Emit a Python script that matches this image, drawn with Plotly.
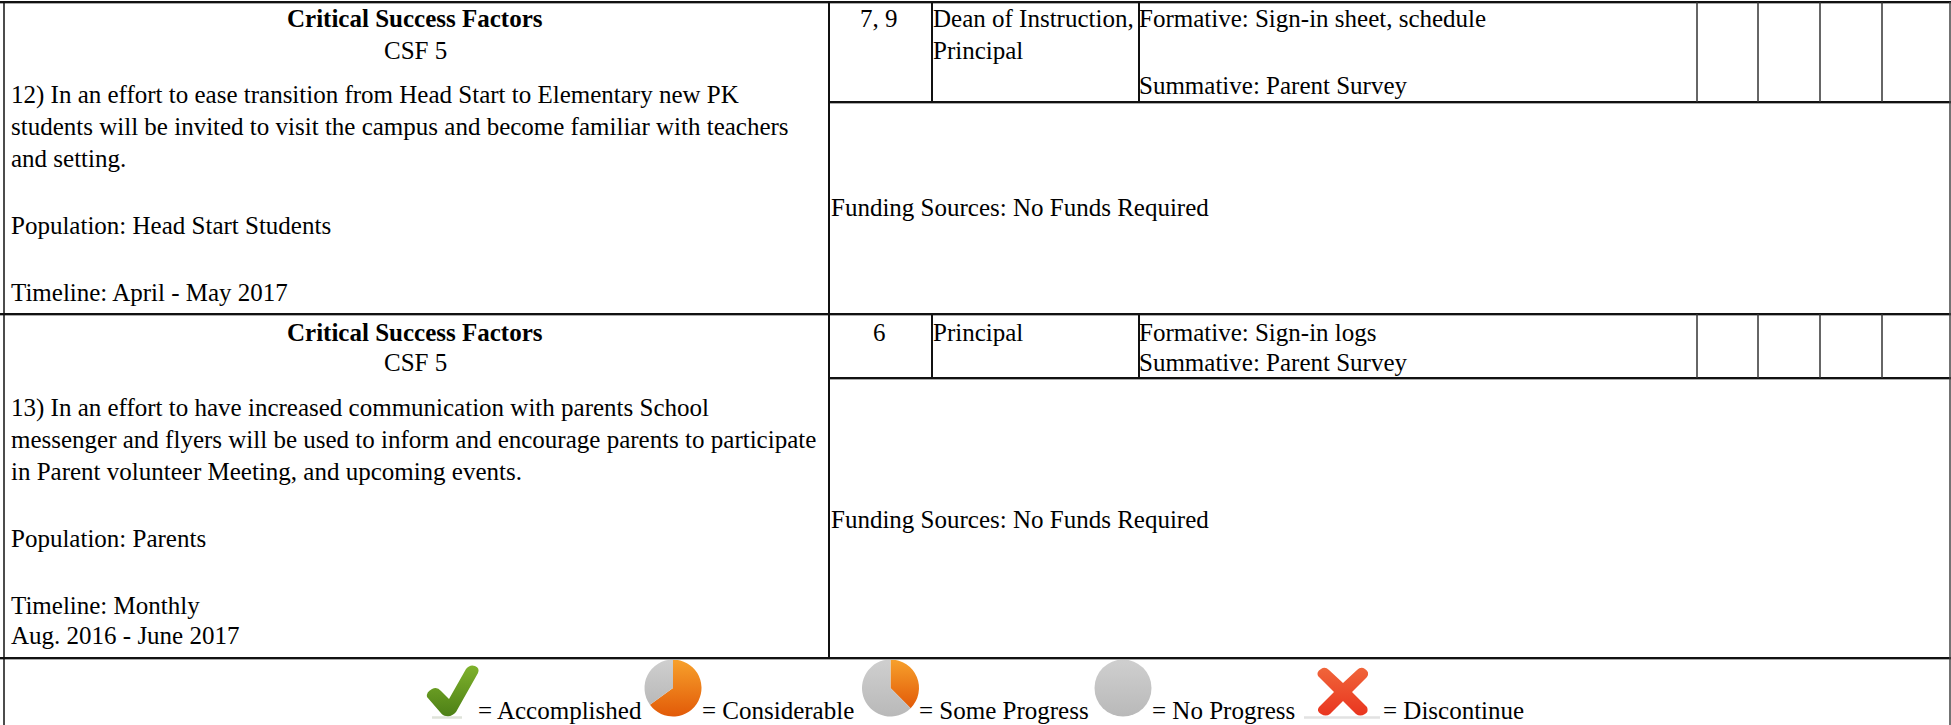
import plotly.graph_objects as go

W, H = 1951, 725

# ---- content ----
ROW1_LEFT = ["12) In an effort to ease transition from Head Start to Elementary new PK",
             "students will be invited to visit the campus and become familiar with teachers",
             "and setting.", "Population: Head Start Students", "Timeline: April - May 2017"]
ROW2_LEFT = ["13) In an effort to have increased communication with parents School",
             "messenger and flyers will be used to inform and encourage parents to participate",
             "in Parent volunteer Meeting, and upcoming events.", "Population: Parents",
             "Timeline: Monthly", "Aug. 2016 - June 2017"]
HEAD = "Critical Success Factors"
CSF = "CSF 5"
FUNDING = "Funding Sources: No Funds Required"
ROW1_CELLS = ["7, 9", "Dean of Instruction,", "Principal", "Formative: Sign-in sheet, schedule", "Summative: Parent Survey"]
ROW2_CELLS = ["6", "Principal", "Formative: Sign-in logs", "Summative: Parent Survey"]
LEGEND = ["= Accomplished", "= Considerable", "= Some Progress", "= No Progress", "= Discontinue"]
CONSIDERABLE = [65, 35]
SOME_PROGRESS = [37.5, 62.5]
NO_PROGRESS = [100]

# ---- layout ----
FONT = "Liberation Serif, Times New Roman, serif"
SIZE = 25
ORANGE, GREY = "#ee7a16", "#c4c4c4"

fig = go.Figure()
fig.add_trace(go.Scatter(x=[], y=[], hoverinfo="skip", showlegend=False))

def label(text, x, y, anchor="left", bold=False):
    fig.add_annotation(x=x, y=y, xref="x", yref="y", text=f"<b>{text}</b>" if bold else text,
                       xanchor=anchor, yanchor="middle", showarrow=False, align=anchor,
                       borderpad=0, borderwidth=0,
                       font=dict(family=FONT, size=SIZE, color="#000"))

def rule(x0, y0, x1, y1, width=2, color="#111"):
    fig.add_shape(type="line", x0=x0, y0=y0, x1=x1, y1=y1, xref="x", yref="y",
                  line=dict(color=color, width=width))

# grid
for y, x0 in ((2, 0), (102, 829), (314, 0), (378, 829), (658, 0)):
    rule(x0, y + 1, W, y + 1, 2, "#aaa")
    rule(x0, y, W, y, 2)
rule(4, 2, 4, 725, 1.5)
rule(W - 1, 2, W - 1, 725, 1.5, "#444")
rule(829, 2, 829, 658, 2)
for x in (932, 1139):
    rule(x, 2, x, 102, 2)
    rule(x, 314, x, 378, 2)
for x in (1697, 1758, 1820, 1882):
    rule(x, 2, x, 102, 1.5, "#333")
    rule(x, 314, x, 378, 1.5, "#333")

# left column
label(HEAD, 415, 18, "center", True)
label(CSF, 415, 50, "center")
for t, y in zip(ROW1_LEFT, (95, 126, 158, 225, 292)):
    label(t, 11, y)
label(HEAD, 415, 332, "center", True)
label(CSF, 415, 362, "center")
for t, y in zip(ROW2_LEFT, (408, 439, 471, 538, 605, 635)):
    label(t, 11, y)

# right cells
label(ROW1_CELLS[0], 879, 18, "center")
label(ROW1_CELLS[1], 933, 18)
label(ROW1_CELLS[2], 933, 50)
label(ROW1_CELLS[3], 1139, 18)
label(ROW1_CELLS[4], 1139, 85)
label(ROW2_CELLS[0], 879, 332, "center")
label(ROW2_CELLS[1], 933, 332)
label(ROW2_CELLS[2], 1139, 332)
label(ROW2_CELLS[3], 1139, 362)
label(FUNDING, 831, 207)
label(FUNDING, 831, 519)

# legend texts
for t, x in zip(LEGEND, (478, 702, 919, 1152, 1383)):
    label(t, x, 710)

# legend pies
def pie(values, colors, cx, cy, r=28.5):
    fig.add_trace(go.Pie(values=values, sort=False, direction="clockwise", rotation=0,
                         marker=dict(colors=colors, line=dict(width=0)),
                         textinfo="none", hoverinfo="skip", showlegend=False,
                         domain=dict(x=[(cx - r) / W, (cx + r) / W],
                                     y=[1 - (cy + r) / H, 1 - (cy - r) / H])))
pie(CONSIDERABLE, [ORANGE, GREY], 673, 688)
pie(SOME_PROGRESS, [ORANGE, GREY], 890.5, 688)
pie(NO_PROGRESS, [GREY], 1123, 688)

# icon shadows
rule(432, 717.5, 462, 717.5, 2.5, "#dfe3da")
rule(1304, 717.5, 1380, 717.5, 2.5, "#e2e2e2")

# check mark and cross icons
fig.add_shape(type="path", xref="x", yref="y", line=dict(width=0), fillcolor="#5f9a1c",
              path="M 427 697 Q 426 692 432 689 Q 437 686 441 691 L 449 699 L 466 669 Q 470 664 475 666 "
                   "Q 480 668 478 673 L 456 712 Q 452 717 446 716 Q 443 716 440 712 Z")
fig.add_shape(type="path", xref="x", yref="y", line=dict(width=0), fillcolor="#ea4a2c",
              path="M 1318 676 Q 1316 672 1321 669 Q 1325 666 1329 670 L 1343 683 L 1357 670 "
                   "Q 1361 666 1365 669 Q 1370 672 1367 677 L 1352 692 L 1367 707 Q 1369 712 1365 714 "
                   "Q 1360 717 1356 714 L 1343 701 L 1330 714 Q 1326 717 1321 714 Q 1316 711 1319 707 L 1334 692 Z")

fig.update_layout(width=W, height=H, margin=dict(l=0, r=0, t=0, b=0),
                  paper_bgcolor="white", plot_bgcolor="white", showlegend=False,
                  xaxis=dict(range=[0, W], visible=False, fixedrange=True),
                  yaxis=dict(range=[H, 0], visible=False, fixedrange=True))

# soft vertical colour gradients on the icons, as in the reference
GRADIENT_JS = """
document.body.style.margin='0';document.body.style.overflow='hidden';
(function(){
  var svg=document.querySelector('.main-svg');
  var NS='http://www.w3.org/2000/svg';
  var defs=svg.querySelector('defs')||svg.appendChild(document.createElementNS(NS,'defs'));
  var map={'rgb(238, 122, 22)':['gO','#f7a12c','#e25a08'],'rgb(196, 196, 196)':['gG','#cfcfcf','#b9b9b9'],
           'rgb(95, 154, 28)':['gC','#7fb22c','#4d8016'],'rgb(234, 74, 44)':['gX','#f0653a','#e9351f']};
  Object.keys(map).forEach(function(k){var m=map[k];
    var g=document.createElementNS(NS,'linearGradient');g.setAttribute('id',m[0]);
    g.setAttribute('x1','0');g.setAttribute('y1','0');g.setAttribute('x2','0');g.setAttribute('y2','1');
    [[0,m[1]],[1,m[2]]].forEach(function(s){var e=document.createElementNS(NS,'stop');
      e.setAttribute('offset',s[0]);e.setAttribute('stop-color',s[1]);g.appendChild(e);});
    defs.appendChild(g);});
  document.querySelectorAll('.slice path.surface, .shapelayer path').forEach(function(p){
    var m=map[p.style.fill]; if(m&&p.style.fill){p.style.fill='url(#'+m[0]+')';}
  });
})();
"""
fig.write_html("out.html", config={"displayModeBar": False}, post_script=GRADIENT_JS)
